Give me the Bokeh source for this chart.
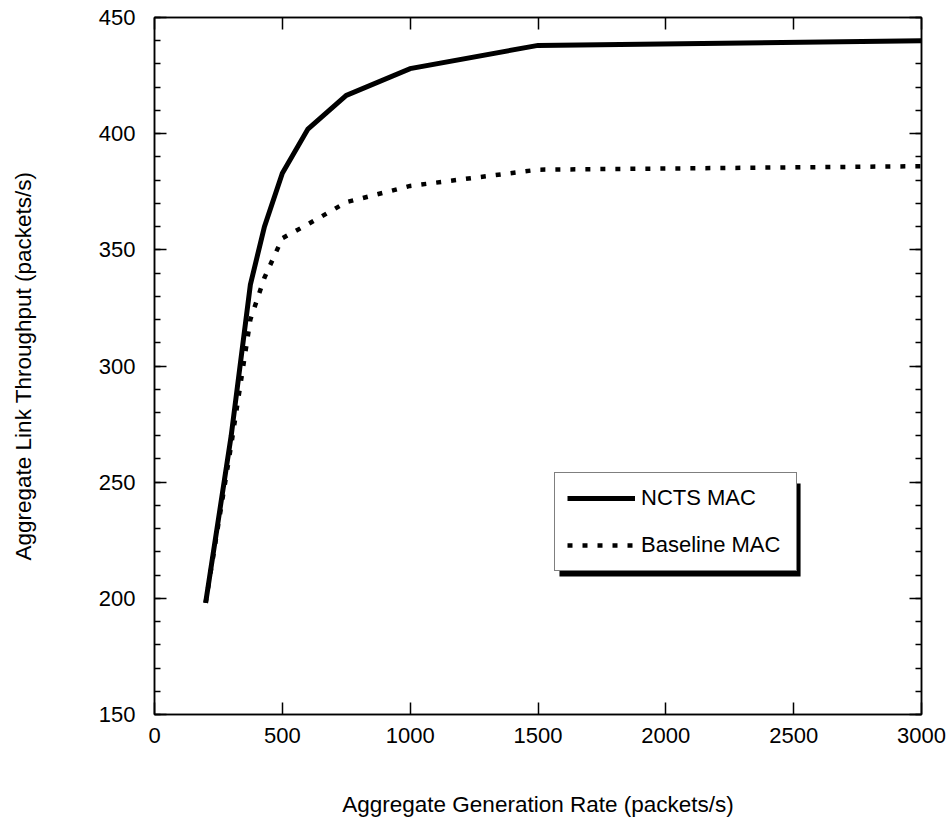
from bokeh.plotting import figure
from bokeh.models import (Range1d, LinearAxis, SingleIntervalTicker, Legend, LegendItem,
                          BoxAnnotation, CustomJSTickFormatter)
from bokeh.embed import file_html
from bokeh.resources import INLINE

# Data
gen_rate = [200, 300, 375, 430, 500, 600, 750, 1000, 1500, 3000]
ncts_mac = [198, 270, 335, 360, 383, 402, 416.5, 428, 438, 440]
baseline_mac = [198, 266, 320, 338, 355, 361, 370.5, 377.5, 384.5, 386]

x_label = "Aggregate Generation Rate (packets/s)"
y_label = "Aggregate Link Throughput (packets/s)"
series_names = ["NCTS MAC", "Baseline MAC"]

FONT = "Liberation Sans"

p = figure(width=950, height=824, output_backend="svg", toolbar_location=None,
           x_range=Range1d(0, 3000), y_range=Range1d(150, 450),
           min_border_left=154, min_border_right=29, min_border_top=17, min_border_bottom=110,
           x_axis_label=x_label, y_axis_label=y_label)
p.background_fill_color = "white"
p.border_fill_color = "white"
p.outline_line_color = "black"
p.outline_line_width = 1.5
p.xgrid.visible = False
p.ygrid.visible = False

xt = SingleIntervalTicker(interval=500, num_minor_ticks=0)
yt = SingleIntervalTicker(interval=50, num_minor_ticks=5)

def style(ax, labels=True):
    ax.axis_line_color = "black"
    ax.axis_line_width = 1.5
    ax.major_tick_line_color = "black"
    ax.major_tick_line_width = 1.5
    ax.minor_tick_line_color = "black"
    ax.minor_tick_line_width = 1.5
    ax.major_tick_in = 12
    ax.major_tick_out = 0
    ax.minor_tick_in = 6
    ax.minor_tick_out = 0
    ax.major_label_text_font = FONT
    ax.major_label_text_font_size = "22px"
    ax.major_label_text_color = "black"
    ax.axis_label_text_font = FONT
    ax.axis_label_text_font_size = "22.5px"
    ax.axis_label_text_font_style = "normal"
    ax.axis_label_text_color = "black"
    if not labels:
        ax.formatter = CustomJSTickFormatter(code="return ''")
        ax.major_label_standoff = 0

xa = p.xaxis[0]
xa.ticker = xt
style(xa)
xa.minor_tick_line_color = None
xa.major_label_standoff = 13
xa.axis_label_standoff = 46

ya = p.yaxis[0]
ya.ticker = yt
style(ya)
ya.major_label_standoff = 19
ya.axis_label_standoff = 60

top = LinearAxis(ticker=xt)
style(top, labels=False)
top.minor_tick_line_color = None
p.add_layout(top, "above")

right = LinearAxis(ticker=yt)
style(right, labels=False)
p.add_layout(right, "right")

r1 = p.line(gen_rate, ncts_mac, line_color="black", line_width=5, line_join="miter")
r2 = p.line(gen_rate, baseline_mac, line_color="black", line_width=4.5,
            line_dash="5 10", line_cap="butt")

# legend shadow
shadow = BoxAnnotation(left=1584, right=2527, top=249.4, bottom=209.4,
                       fill_color="black", fill_alpha=1.0, line_color=None)
p.add_layout(shadow)

legend = Legend(items=[LegendItem(label=series_names[0], renderers=[r1]),
                       LegendItem(label=series_names[1], renderers=[r2])],
                location=(400, 143), orientation="vertical",
                padding=12, spacing=21, margin=0,
                glyph_width=68, glyph_height=24, label_height=24, label_width=143,
                label_standoff=6,
                label_text_font=FONT, label_text_font_size="22px", label_text_color="black",
                border_line_color="black", border_line_width=1.5,
                background_fill_color="white", background_fill_alpha=1.0)
p.add_layout(legend, "center")

open("out.html", "w").write(file_html(p, INLINE))
